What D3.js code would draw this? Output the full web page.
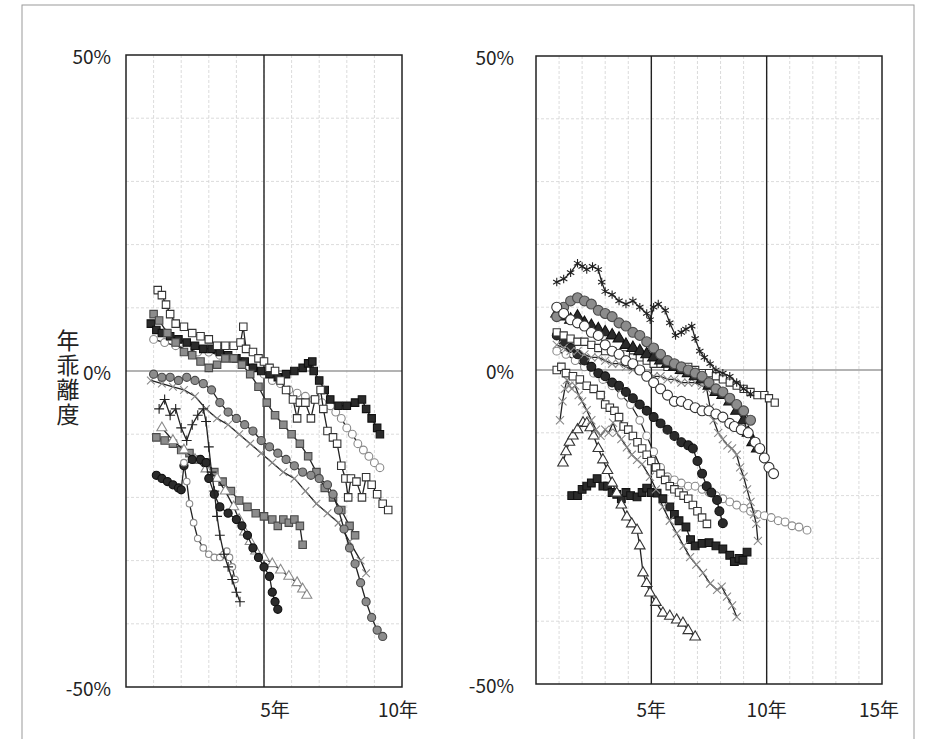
<!DOCTYPE html>
<html>
<head>
<meta charset="utf-8">
<script src="https://cdn.jsdelivr.net/npm/d3@7"></script>
<style>
body{margin:0;background:#fff;}
text{font-family:"Noto Sans CJK JP","Noto Sans",sans-serif;fill:#222;}
</style>
</head>
<body>
<script>
// tick labels
var yLabels = ['50%','0%','-50%'];
var yTickVals = [50,0,-50];
var leftXLabels = ['5年','10年'];
var rightXLabels = ['5年','10年','15年'];
var yTitle = '年乖離度';

// left panel series  [year, %]
var L_A = [[0.9,7.5],[1.1,6.5],[1.3,6],[1.6,5.5],[1.9,5],[2.2,4.5],[2.5,4],[2.8,3.5],[3.1,3.5],[3.4,3],[3.7,2.5],[4,2],[4.3,1.5],[4.6,0.5],[4.9,0],[5.2,-0.5],[5.5,-1],[5.8,-0.5],[6.1,0],[6.4,0.5],[6.6,1.2],[6.75,1.5],[6.8,0],[7,-1.5],[7.2,-3],[7.4,-4.5],[7.7,-5.5],[8,-5.5],[8.3,-5],[8.55,-4.5],[8.7,-6],[8.9,-7.5],[9.1,-9],[9.2,-10]];
var L_B = [[1.15,12.8],[1.3,12],[1.45,10.5],[1.6,9],[1.8,7.5],[2.1,7],[2.4,6],[2.7,5.5],[3,5],[3.3,4],[3.6,4],[3.9,4],[4.15,4.5],[4.25,7],[4.35,3.5],[4.6,3],[4.8,2],[5.0,1.5],[5.2,0.5],[5.4,0],[5.6,-1.5],[5.8,-3],[6.05,-4.5],[6.2,-7.5],[6.3,-5],[6.5,-5],[6.7,-7.5],[6.85,-4.5],[7.05,-3],[7.15,-6],[7.3,-9.5],[7.5,-10.5],[7.65,-11.5],[7.8,-15],[7.95,-17],[8.05,-20],[8.15,-17],[8.35,-17.5],[8.55,-20],[8.7,-16.8],[8.9,-18],[9.1,-19.5],[9.3,-21],[9.5,-22]];
var L_C = [[1.0,5],[1.4,4.5],[1.8,4],[2.2,3.5],[2.6,3],[3,3],[3.4,2.5],[3.8,2],[4.2,1.5],[4.6,0.5],[5,-0.5],[5.3,-1.5],[5.6,-2],[5.9,-3],[6.2,-3.5],[6.5,-4],[6.8,-4.5],[7.1,-5],[7.4,-5.5],[7.6,-6.5],[7.8,-7.5],[8,-9],[8.2,-10],[8.4,-11.5],[8.6,-12.5],[8.8,-13.5],[9,-14.5],[9.2,-15.3]];
var L_D = [[1,-0.5],[1.3,-1],[1.6,-1],[1.9,-1.5],[2.2,-1],[2.5,-1.5],[2.8,-2],[3.1,-3],[3.4,-5],[3.7,-6.5],[4,-7.5],[4.3,-8.5],[4.6,-9.5],[4.9,-11],[5.2,-12],[5.5,-13],[5.8,-14],[6.1,-15],[6.4,-16],[6.7,-16.5],[7,-17],[7.3,-18],[7.5,-19.5],[7.7,-22],[7.9,-25],[8.1,-28],[8.3,-30.5],[8.5,-33.5],[8.7,-36.5],[8.9,-39],[9.1,-41],[9.3,-42]];
var L_N = [[1.0,9],[1.2,8],[1.5,6],[1.8,4.5],[2.1,3],[2.4,2.5],[2.7,1.5],[3,0.5],[3.3,1],[3.6,2],[3.9,2],[4.2,1],[4.5,-0.5],[4.8,-2.5],[5.1,-5],[5.4,-7],[5.7,-8.5],[6,-10],[6.3,-11.5],[6.6,-13.5],[6.9,-16],[7.2,-18.5],[7.5,-20],[7.8,-22],[8.1,-24.5],[8.3,-26]];
var L_E = [[0.9,-1.5],[1.3,-2],[1.7,-2.5],[2.1,-3],[2.5,-4],[2.9,-6],[3.3,-7.5],[3.7,-8.5],[4.1,-10],[4.5,-11.5],[4.9,-13],[5.3,-14.5],[5.7,-16],[6.1,-17],[6.5,-19],[6.9,-21],[7.3,-22.5],[7.7,-24],[8.1,-27],[8.5,-30],[8.7,-32]];
var L_F = [[1.1,-10.5],[1.4,-11],[1.7,-11.5],[2.0,-12.5],[2.3,-13],[2.6,-14],[2.9,-14.5],[3.2,-16],[3.5,-17.5],[3.8,-19],[4.1,-20.5],[4.4,-21.5],[4.7,-22.5],[5.0,-23],[5.3,-23.5],[5.5,-24.5],[5.7,-23.5],[5.9,-24],[6.1,-23.5],[6.3,-24.5],[6.4,-27.5]];
var L_G = [[1.3,-9],[1.7,-11],[2.1,-12.5],[2.5,-14],[2.9,-15.5],[3.3,-17],[3.6,-19],[3.9,-21.5],[4.1,-23.5],[4.3,-25.5],[4.5,-27],[4.7,-28.5],[5,-29.5],[5.3,-30.5],[5.6,-31.5],[5.9,-32.5],[6.2,-33.5],[6.4,-34.5],[6.55,-35.5]];
var L_H = [[1.1,-16.5],[1.3,-17],[1.5,-17.5],[1.7,-18],[1.9,-18.5],[2.0,-18.8],[2.1,-15],[2.4,-14],[2.7,-14],[2.9,-14.5],[3.0,-17],[3.2,-19.5],[3.4,-21.5],[3.7,-22.5],[4,-23.5],[4.2,-24.5],[4.4,-26],[4.6,-28],[4.8,-29.5],[5,-31],[5.2,-32.5],[5.3,-35],[5.4,-36.5],[5.5,-37.7]];
var L_I = [[2.1,-14.5],[2.2,-17.5],[2.3,-21],[2.45,-24],[2.6,-26.5],[2.8,-28],[3.0,-29],[3.2,-29.5],[3.4,-29.5],[3.55,-29],[3.65,-28.5],[3.75,-29.5],[3.85,-31],[3.95,-33]];
var L_J = [[1.2,-6],[1.4,-4.5],[1.6,-7],[1.8,-6],[2,-9],[2.2,-11],[2.4,-8.5],[2.6,-7],[2.8,-6],[2.9,-8],[3.0,-12],[3.1,-16],[3.2,-19],[3.3,-23],[3.4,-26],[3.55,-29],[3.7,-31],[3.85,-33],[4,-35],[4.13,-36.5]];

// right panel series
var R_A = [[0.9,14],[1.2,14.5],[1.5,15.5],[1.8,17],[2.0,16.5],[2.2,16],[2.45,16.5],[2.7,16],[2.85,14],[3.0,12.5],[3.3,12],[3.6,11],[3.9,10.5],[4.2,11],[4.5,10],[4.8,9],[4.95,8],[5.1,10],[5.3,10.5],[5.6,9.5],[5.8,7.5],[6.05,5.5],[6.3,6],[6.5,6.5],[6.75,7],[6.9,5],[7.1,3],[7.3,2],[7.55,1],[7.8,0],[8.1,-0.5],[8.4,-1],[8.7,-2],[9,-3],[9.3,-3.8]];
var R_B = [[0.9,10],[1.2,9],[1.5,8],[1.8,7.5],[2.1,7],[2.4,6],[2.7,5.5],[3,4],[3.3,3],[3.6,2.5],[3.9,1.5],[4.2,1],[4.5,0],[4.8,-1],[5.1,-2],[5.4,-3],[5.7,-4],[6,-5],[6.3,-5],[6.6,-5.5],[6.9,-6],[7.2,-6.5],[7.5,-6.5],[7.8,-7],[8.1,-7.5],[8.4,-8.5],[8.6,-9],[8.9,-9.5],[9.2,-10],[9.5,-11.5],[9.7,-12.5],[9.9,-14],[10.1,-15.5],[10.3,-16.5]];
var R_C = [[0.9,8.5],[1.2,10],[1.5,11],[1.8,11.5],[2.1,11],[2.4,10.5],[2.7,9.5],[3,9],[3.3,8.5],[3.6,7.5],[3.9,7],[4.2,6],[4.5,5.5],[4.8,4.5],[5.1,3.5],[5.4,2.5],[5.7,1.5],[6,1],[6.3,0.5],[6.6,0],[6.9,-0.5],[7.2,-1],[7.5,-2],[7.8,-3],[8.1,-3.5],[8.4,-4.5],[8.7,-5.5],[9,-6.5],[9.3,-8]];
var R_D = [[0.9,6],[1.2,5.5],[1.5,5],[1.8,4.5],[2.1,4.5],[2.4,4],[2.7,3.5],[3,3],[3.3,3],[3.6,2.5],[3.9,2.5],[4.2,2],[4.5,2],[4.8,1.5],[5.1,1],[5.4,1],[5.7,0.5],[6,0.5],[6.3,0],[6.6,0.5],[6.9,0],[7.2,-0.5],[7.5,-0.5],[7.8,-1],[8.1,-1.5],[8.4,-2],[8.7,-2.5],[9,-3],[9.3,-3.5],[9.6,-4],[9.9,-4],[10.1,-4.5],[10.35,-5.2]];
var R_E = [[0.9,9],[1.2,8.5],[1.5,8],[1.8,8.5],[2.1,7.5],[2.4,7],[2.7,6.5],[3,6],[3.3,5.5],[3.6,5],[3.9,4],[4.2,3.5],[4.5,3],[4.8,2.5],[5.1,2],[5.4,1.5],[5.7,1],[6,0.5],[6.3,0],[6.6,-0.5],[6.9,-1],[7.2,-1.5],[7.5,-2.5],[7.8,-3.5],[8.1,-4],[8.4,-5],[8.7,-6.5],[9,-8],[9.2,-10],[9.4,-11.5],[9.6,-12.5]];
var R_F = [[0.9,4],[1.2,3.5],[1.5,3],[1.8,3],[2.1,2.5],[2.4,2],[2.7,2],[3,1.5],[3.3,1],[3.6,1],[3.9,0.5],[4.2,0],[4.5,0],[4.8,-0.5],[5.1,-1],[5.4,-1],[5.7,-1.5],[6,-1.5],[6.3,-2],[6.6,-2],[6.9,-2],[7.2,-2.5],[7.4,-3],[7.55,-6],[7.7,-8],[7.9,-10],[8.1,-11],[8.3,-12],[8.5,-12.5],[8.7,-13.5],[8.85,-15.5],[9,-17],[9.15,-19],[9.3,-21],[9.45,-23],[9.55,-24.5],[9.62,-27.2]];
var R_G = [[0.9,5.5],[1.2,4.5],[1.5,3.5],[1.8,2.5],[2.1,1.5],[2.4,0.5],[2.7,-0.5],[3,-1],[3.3,-2],[3.6,-2.5],[3.9,-3.5],[4.2,-4.5],[4.5,-5.5],[4.8,-6.5],[5.1,-7.5],[5.4,-8.5],[5.7,-9.5],[6,-10.5],[6.3,-11.5],[6.6,-12],[6.8,-12.5],[7,-14.5],[7.2,-16.5],[7.4,-18.5],[7.6,-19.5],[7.85,-20.7],[7.95,-22.5],[8.1,-24.4]];
var R_H = [[0.9,0],[1.1,0.5],[1.3,-0.5],[1.6,-1],[1.9,-1.5],[2.2,-2.5],[2.5,-3],[2.8,-4],[3.0,-5.5],[3.2,-6],[3.4,-6.5],[3.6,-7.5],[3.8,-9],[4.0,-9.5],[4.2,-10.5],[4.4,-11.5],[4.6,-12.5],[4.8,-13.5],[5,-14.5],[5.2,-15.5],[5.4,-16.5],[5.6,-17.5],[5.8,-18.5],[6.0,-19],[6.2,-19.5],[6.4,-20],[6.6,-20.5],[6.8,-21.5],[7,-22.5],[7.2,-23.5],[7.41,-24.5]];
var R_I = [[1.55,-20],[1.8,-20],[2.0,-19],[2.2,-18.5],[2.4,-18],[2.65,-17.3],[2.9,-18.5],[3.1,-18.5],[3.3,-19.5],[3.5,-19.8],[3.7,-20.5],[3.9,-19.5],[4.1,-20],[4.38,-20.2],[4.6,-19.5],[4.8,-18.8],[5.0,-19.5],[5.25,-19.6],[5.5,-20.5],[5.8,-21.8],[6.0,-23],[6.2,-24],[6.5,-25],[6.7,-27],[6.9,-28],[7.2,-27.6],[7.5,-27.5],[7.8,-28],[8.1,-28.5],[8.4,-29.5],[8.6,-30.5],[8.8,-30],[8.97,-30.3],[9.15,-29]];
var R_J = [[1.17,-14.8],[1.3,-13],[1.45,-11.5],[1.6,-10.5],[1.8,-9.5],[2.04,-8.4],[2.2,-8.5],[2.35,-9.2],[2.5,-10.5],[2.7,-12.5],[2.9,-14.3],[3.1,-16],[3.3,-18],[3.5,-19.6],[3.7,-21.5],[3.94,-23.4],[4.15,-24.5],[4.38,-25.5],[4.5,-28],[4.64,-32.3],[4.8,-34],[4.94,-35.5],[5.2,-37],[5.5,-38.7],[5.8,-39.2],[6.1,-39.8],[6.37,-40.3],[6.6,-41.5],[6.9,-42.5]];
var R_K = [[1.04,-8],[1.15,-5],[1.25,-3],[1.34,-1.6],[1.45,-2.5],[1.55,-3],[1.7,-2.5],[1.85,-4],[2.0,-5],[2.2,-6.4],[2.4,-8],[2.6,-9.5],[2.8,-10.5],[3.0,-9.5],[3.15,-10],[3.34,-8.4],[3.5,-10],[3.7,-11],[3.94,-12.3],[4.15,-13.5],[4.38,-14.3],[4.6,-15],[4.94,-17],[5.2,-19],[5.5,-21.8],[5.8,-24],[6.1,-26],[6.4,-28],[6.68,-29.8],[6.95,-31],[7.24,-32.3],[7.55,-34],[7.85,-35],[8.05,-34.5],[8.28,-36.1],[8.5,-37.5],[8.7,-39.3]];
var R_L = [[0.9,3],[1.3,2.5],[1.7,1.5],[2.1,0.5],[2.5,-0.5],[2.9,-1.5],[3.3,-2.5],[3.7,-4],[4.1,-5.5],[4.5,-8],[4.8,-10.5],[5.1,-13],[5.4,-15.5],[5.7,-17],[6,-17.5],[6.3,-18],[6.6,-18.5],[6.9,-18.5],[7.2,-19],[7.5,-19.5],[7.8,-20],[8.1,-20.5],[8.4,-21],[8.7,-21.5],[9,-22],[9.3,-22.5],[9.6,-23],[9.9,-23.2],[10.2,-23.5],[10.5,-24],[10.8,-24.2],[11.1,-24.8],[11.4,-25],[11.75,-25.5]];

// marker looks
var looks = {
  dark:   {fill:'#2b2b2b', stroke:'#111'},
  mid:    {fill:'#8c8c8c', stroke:'#4a4a4a'},
  light:  {fill:'#c9c9c9', stroke:'#777'},
  open:   {fill:'#fff', stroke:'#333'},
  openLt: {fill:'#fff', stroke:'#8a8a8a'},
  xdark:  {fill:'none', stroke:'#222'},
  xgray:  {fill:'none', stroke:'#8a8a8a'}
};
var shapes = {sq:d3.symbolSquare, ci:d3.symbolCircle, tr:d3.symbolTriangle, x:d3.symbolX, ast:d3.symbolAsterisk, pl:d3.symbolPlus};

var leftSeries = [
  {d:L_E, s:'x',  l:'xgray', z:40},
  {d:L_C, s:'ci', l:'openLt', z:48},
  {d:L_A, s:'sq', l:'dark', z:56},
  {d:L_N, s:'sq', l:'mid', z:56},
  {d:L_D, s:'ci', l:'mid', z:52},
  {d:L_F, s:'sq', l:'mid', z:56},
  {d:L_G, s:'tr', l:'openLt', z:44},
  {d:L_H, s:'ci', l:'dark', z:52},
  {d:L_I, s:'ci', l:'openLt', z:34},
  {d:L_J, s:'pl', l:'xdark', z:34},
  {d:L_B, s:'sq', l:'open', z:56}
];
var rightSeries = [
  {d:R_L, s:'ci', l:'openLt', z:48},
  {d:R_I, s:'sq', l:'dark', z:60},
  {d:R_J, s:'tr', l:'open', z:48},
  {d:R_K, s:'x',  l:'xgray', z:44},
  {d:R_H, s:'sq', l:'open', z:56},
  {d:R_G, s:'ci', l:'dark', z:62},
  {d:R_F, s:'x',  l:'xgray', z:44},
  {d:R_D, s:'sq', l:'open', z:52},
  {d:R_E, s:'tr', l:'dark', z:62},
  {d:R_C, s:'ci', l:'mid', z:78},
  {d:R_B, s:'ci', l:'open', z:78},
  {d:R_A, s:'ast',l:'xdark', z:50}
];

var svg = d3.select('body').append('svg').attr('width',946).attr('height',739);

// outer frame
svg.append('rect').attr('x',22).attr('y',5).attr('width',892).attr('height',760)
  .attr('fill','none').attr('stroke','#9a9a9a').attr('stroke-width',1);

function panel(opts){
  var x = d3.scaleLinear().domain([0,opts.xmax]).range([opts.x0,opts.x1]);
  var y = d3.scaleLinear().domain([-50,50]).range([opts.y1,opts.y0]);
  var g = svg.append('g');

  // minor grid
  g.selectAll('line.vg').data(d3.range(1,opts.xmax)).enter().append('line')
    .attr('class','vg')
    .attr('x1',function(d){return x(d);}).attr('x2',function(d){return x(d);})
    .attr('y1',y(50)).attr('y2',y(-50))
    .attr('stroke','#d2d2d2').attr('stroke-dasharray','3,2').attr('stroke-width',0.8);
  g.selectAll('line.hg').data(d3.range(-40,50,10)).enter().append('line')
    .attr('class','hg')
    .attr('x1',x(0)).attr('x2',x(opts.xmax))
    .attr('y1',function(d){return y(d);}).attr('y2',function(d){return y(d);})
    .attr('stroke',function(d){return d==0?'#9a9a9a':'#d2d2d2';})
    .attr('stroke-dasharray',function(d){return d==0?null:'3,2';})
    .attr('stroke-width',function(d){return d==0?1.6:0.8;});

  // major year lines
  g.selectAll('line.mj').data(opts.major).enter().append('line')
    .attr('x1',function(d){return x(d);}).attr('x2',function(d){return x(d);})
    .attr('y1',y(50)).attr('y2',y(-50))
    .attr('stroke','#222').attr('stroke-width',1.4);

  // series
  var line = d3.line().x(function(d){return x(d[0]);}).y(function(d){return y(d[1]);});
  opts.series.forEach(function(s){
    g.append('path').datum(s.d).attr('d',line)
      .attr('fill','none').attr('stroke','#222').attr('stroke-width',1.3);
    var lk = looks[s.l];
    g.selectAll(null).data(s.d).enter().append('path')
      .attr('d',d3.symbol().type(shapes[s.s]).size(s.z))
      .attr('transform',function(d){return 'translate('+x(d[0])+','+y(d[1])+')';})
      .attr('fill',lk.fill).attr('stroke',lk.stroke).attr('stroke-width',1.1);
  });

  // frame
  g.append('rect').attr('x',x(0)).attr('y',y(50))
    .attr('width',x(opts.xmax)-x(0)).attr('height',y(-50)-y(50))
    .attr('fill','none').attr('stroke','#222').attr('stroke-width',1.5);

  // y labels
  g.selectAll('text.yl').data(yTickVals).enter().append('text')
    .attr('x',opts.ylx).attr('y',function(d){return y(d);})
    .attr('text-anchor','end').attr('dominant-baseline','central')
    .attr('font-size',19)
    .text(function(d,i){return yLabels[i];});

  // x labels
  g.selectAll('text.xl').data(opts.xlabels).enter().append('text')
    .attr('x',function(d,i){return x((i+1)*5)+opts.xdx[i];}).attr('y',717)
    .attr('text-anchor','middle').attr('font-size',19)
    .text(function(d){return d;});
}

panel({x0:126,x1:402,y0:55,y1:687,xmax:10,major:[5],series:leftSeries,ylx:111,xlabels:leftXLabels,xdx:[11,-4]});
panel({x0:536,x1:882,y0:56,y1:684,xmax:15,major:[5,10],series:rightSeries,ylx:514,xlabels:rightXLabels,xdx:[0,0,-3]});

// vertical axis title
svg.append('text')
  .attr('x',68).attr('y',378)
  .attr('writing-mode','vertical-rl')
  .attr('text-anchor','middle').attr('dominant-baseline','central')
  .attr('font-size',23).attr('letter-spacing',1.5)
  .text(yTitle);
</script>
</body>
</html>
